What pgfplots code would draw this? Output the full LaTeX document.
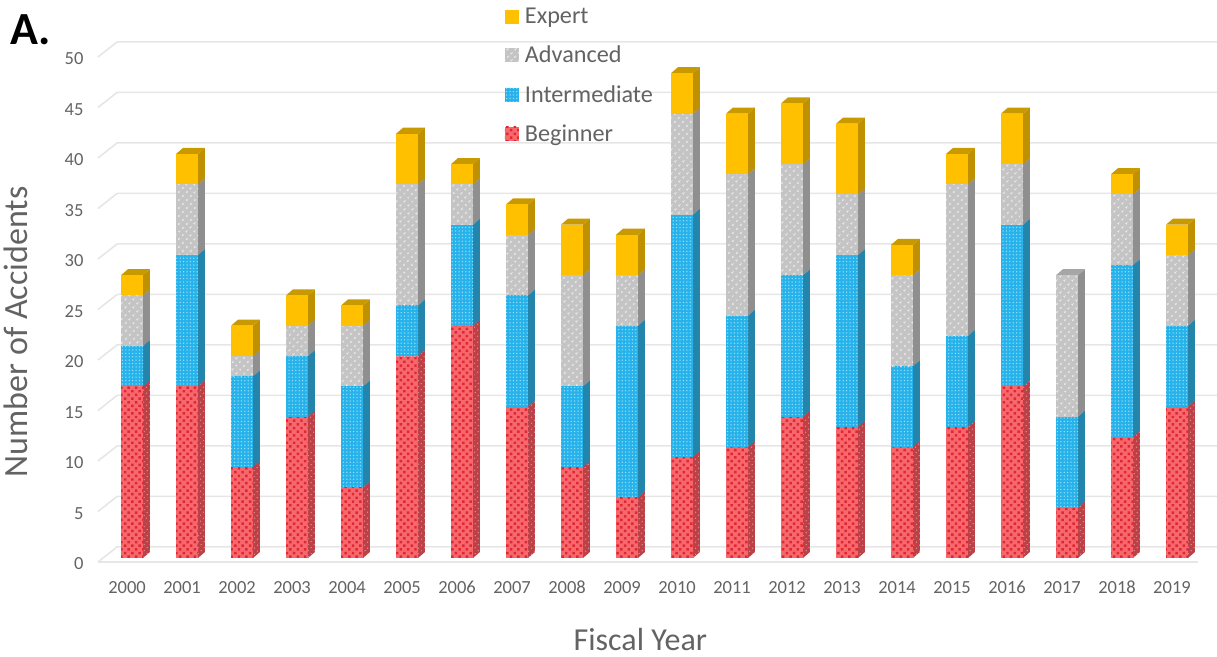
\documentclass[border=0pt]{standalone}
\usepackage{fontspec}
\setmainfont[Numbers=Lining]{Carlito}
\usepackage{pgfplots}
\usepackage{pgfplotstable}
\pgfplotsset{compat=1.18}
\usetikzlibrary{patterns.meta}

% Accidents per fiscal year by skill level
\pgfplotstableread{
idx year B I A E
0 2000 17 4 5 2
1 2001 17 13 7 3
2 2002 9 9 2 3
3 2003 14 6 3 3
4 2004 7 10 6 2
5 2005 20 5 12 5
6 2006 23 10 4 2
7 2007 15 11 6 3
8 2008 9 8 11 5
9 2009 6 17 5 4
10 2010 10 24 10 4
11 2011 11 13 14 6
12 2012 14 14 11 6
13 2013 13 17 6 7
14 2014 11 8 9 3
15 2015 13 9 15 3
16 2016 17 16 6 5
17 2017 5 9 14 0
18 2018 12 17 7 2
19 2019 15 8 7 3
}\accidents

\definecolor{txt}{HTML}{636363}
\definecolor{gridc}{HTML}{E6E6E6}
\definecolor{redF}{HTML}{F7686E}
\definecolor{redD}{HTML}{E02832}
\definecolor{redS}{HTML}{BC4046}
\definecolor{redT}{HTML}{C9444A}
\definecolor{bluF}{HTML}{26B2EA}
\definecolor{bluS}{HTML}{2384AC}
\definecolor{bluT}{HTML}{2A9CCC}
\definecolor{graF}{HTML}{C4C4C4}
\definecolor{graS}{HTML}{8F8F8F}
\definecolor{graT}{HTML}{A6A6A6}
\definecolor{golF}{HTML}{FFC000}
\definecolor{golS}{HTML}{BF9000}
\definecolor{golT}{HTML}{C99A00}

\tikzset{
  texB/.style={fill=redF,postaction={draw=none,pattern={Dots[distance=5.2pt,radius=1.75pt,angle=45]},pattern color=redD}},
  texI/.style={fill=bluF,postaction={draw=none,pattern={Dots[distance=3.4pt,radius=0.75pt,angle=0]},pattern color=white!55!bluF}},
  texA/.style={fill=graF,postaction={draw=none,pattern={Dots[distance=5.4pt,radius=1.2pt,angle=45]},pattern color=white!65!graF}},
  texE/.style={fill=golF},
  sideB/.style={fill=redS,postaction={draw=none,pattern={Dots[distance=4pt,radius=0.8pt,angle=45]},pattern color=redS!60!white}},
  sideI/.style={fill=bluS},
  sideA/.style={fill=graS},
  sideE/.style={fill=golS},
}

% One stacked segment: side face, top face and front face of a box
\newcommand{\segment}[5]{%
  \pgfmathsetmacro{\xl}{#1-0.2}%
  \pgfmathsetmacro{\xr}{#1+0.2}%
  \pgfmathsetmacro{\xd}{#1+0.2+0.127}%
  \pgfmathsetmacro{\xk}{#1-0.2+0.127}%
  \pgfmathsetmacro{\lo}{#2}%
  \pgfmathsetmacro{\hi}{#3}%
  \pgfmathsetmacro{\lou}{#2+0.6}%
  \pgfmathsetmacro{\hiu}{#3+0.6}%
  \edef\drawseg{%
    \noexpand\addplot[draw=none,forget plot,side#5] coordinates {(\xr,\lo)(\xd,\lou)(\xd,\hiu)(\xr,\hi)};
    \noexpand\addplot[draw=none,forget plot,fill=#4] coordinates {(\xl,\hi)(\xk,\hiu)(\xd,\hiu)(\xr,\hi)};
    \noexpand\addplot[draw=none,forget plot,tex#5] coordinates {(\xl,\lo)(\xr,\lo)(\xr,\hi)(\xl,\hi)};
  }%
  \drawseg
}

\newcommand{\gridline}[1]{%
  \pgfmathsetmacro{\va}{#1-0.4}%
  \pgfmathsetmacro{\vb}{#1+1.1}%
  \edef\drawgrid{\noexpand\addplot[gridc,line width=1.6pt,forget plot] coordinates {(-0.62,\va)(-0.27,\vb)(19.75,\vb)};}%
  \drawgrid
}

\begin{document}
\begin{tikzpicture}[x=1pt,y=1pt]
\useasboundingbox (0,0) rectangle (1217,656);
\begin{axis}[
  at={(100pt,98pt)}, anchor=south west,
  scale only axis, width=1105pt, height=505pt,
  xmin=-0.582, xmax=19.509, ymin=0, ymax=50,
  clip=false,
  axis line style={draw=none},
  tick style={draw=none},
  xtick={0,...,19},
  xticklabels={2000,2001,2002,2003,2004,2005,2006,2007,2008,2009,2010,2011,2012,2013,2014,2015,2016,2017,2018,2019},
  ytick={0,5,...,50},
  tick label style={font=\fontsize{18.5}{20}\selectfont,text=txt},
  yticklabel style={yshift=-6pt,xshift=-13pt},
  xticklabel style={yshift=-20pt,xshift=-5pt,text height=12pt,text depth=0pt},
  /pgf/number format/assume math mode=true,
  /pgf/number format/1000 sep={},
  xlabel={Fiscal Year},
  ylabel={Number of Accidents},
  xlabel style={font=\fontsize{32}{36}\selectfont,text=txt,at={(axis description cs:0.489,-0.161)},anchor=center},
  ylabel style={font=\fontsize{34}{38}\selectfont,text=txt,at={(axis description cs:-0.076,0.448)},anchor=center},
  legend style={at={(axis description cs:0.3665,1.089)},anchor=north west,draw=none,fill=none,
    font=\fontsize{24.2}{27}\selectfont,text=txt,row sep=21pt,inner sep=0pt,outer sep=0pt,
    nodes={inner sep=0pt}},
  legend cell align=left,
  legend image code/.code={\path[#1,draw=none] (0pt,-7pt) rectangle (14pt,7pt);},
]
% Legend keys, top to bottom
\addlegendimage{draw=none,texE}\addlegendentry{\hspace{6pt}Expert}
\addlegendimage{draw=none,texA}\addlegendentry{\hspace{6pt}Advanced}
\addlegendimage{draw=none,texI}\addlegendentry{\hspace{6pt}Intermediate}
\addlegendimage{draw=none,texB}\addlegendentry{\hspace{6pt}Beginner}

% Back wall gridlines with their slanted floor returns
\pgfplotsinvokeforeach{0,5,...,50}{\gridline{#1}}
\addplot[gridc,line width=1.6pt,forget plot] coordinates {(-0.62,-0.4)(19.38,-0.4)};

% Stacked boxes, read year by year from the table
\pgfplotsinvokeforeach{0,...,19}{%
  \pgfplotstablegetelem{#1}{B}\of{\accidents}\let\vB\pgfplotsretval
  \pgfplotstablegetelem{#1}{I}\of{\accidents}\let\vI\pgfplotsretval
  \pgfplotstablegetelem{#1}{A}\of{\accidents}\let\vA\pgfplotsretval
  \pgfplotstablegetelem{#1}{E}\of{\accidents}\let\vE\pgfplotsretval
  \pgfmathsetmacro{\cI}{\vB+\vI}\pgfmathsetmacro{\cA}{\vB+\vI+\vA}\pgfmathsetmacro{\cE}{\vB+\vI+\vA+\vE}%
  \edef\lowI{\vB}\edef\topI{\cI}\edef\topA{\cA}\edef\topE{\cE}%
  \segment{#1}{0}{\lowI}{redT}{B}
  \segment{#1}{\lowI}{\topI}{bluT}{I}
  \segment{#1}{\topI}{\topA}{graT}{A}
  \ifdim\vE pt>0pt \segment{#1}{\topA}{\topE}{golT}{E}\fi
}

\node[font=\fontsize{46}{48}\selectfont\bfseries,text=black,anchor=center] at (axis description cs:-0.0625,1.047) {A.};
\end{axis}
\end{tikzpicture}
\end{document}
